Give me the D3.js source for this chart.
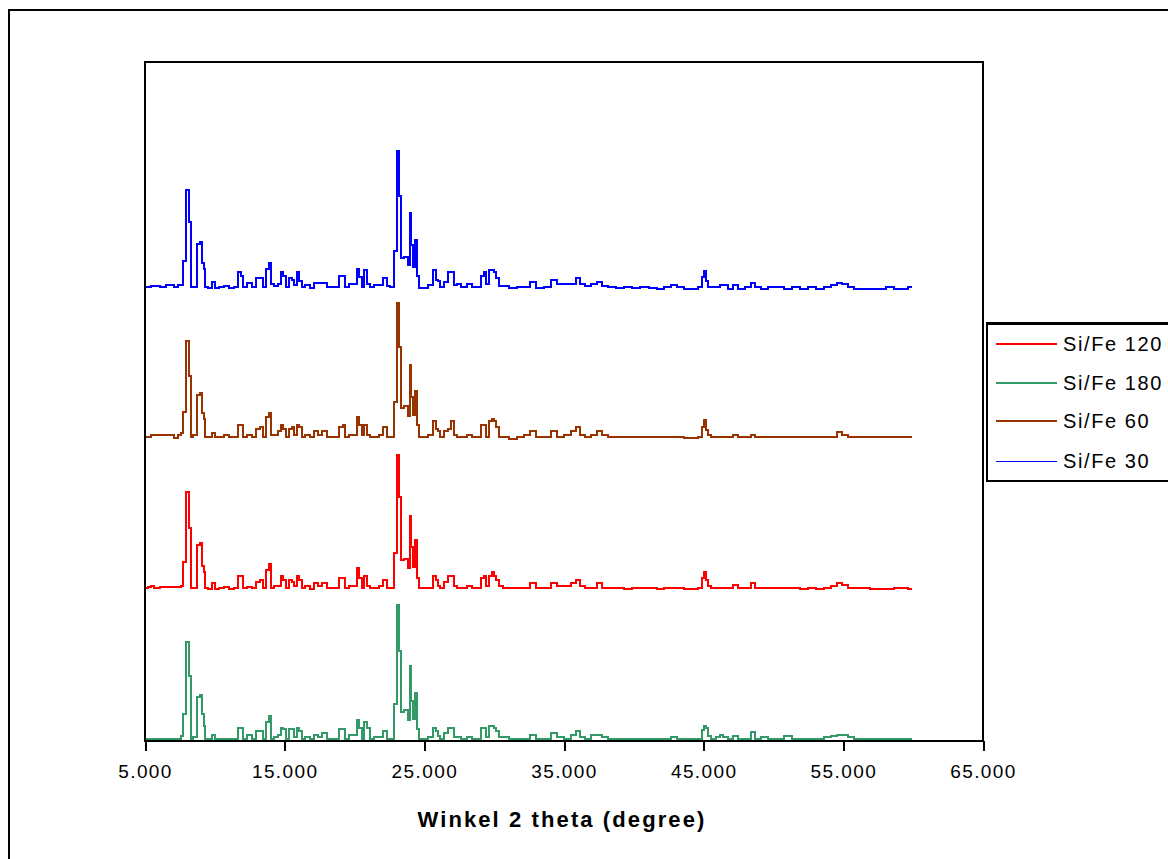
<!DOCTYPE html>
<html>
<head>
<meta charset="utf-8">
<script src="https://cdn.jsdelivr.net/npm/d3@7"></script>
<style>
body { margin: 0; background: #fff; }
text { font-family: Arial, "Liberation Sans", sans-serif; fill: #000; }
</style>
</head>
<body>
<svg id="chart" width="1168" height="859"></svg>
<script>
// 2 theta positions (degree), shared by all four patterns
var twoTheta = [5.00,5.36,5.50,5.86,6.29,6.65,6.93,7.22,7.51,7.65,
  7.79,8.04,8.19,8.33,8.58,8.87,9.01,9.12,9.26,9.40,
  9.65,9.90,10.15,10.51,10.80,11.23,11.52,11.80,11.94,12.12,
  12.52,12.80,13.16,13.31,13.52,13.81,13.95,14.09,14.38,14.67,
  14.81,14.95,15.17,15.45,15.60,15.78,15.99,16.13,16.31,16.60,
  16.96,17.24,17.53,17.82,18.25,18.68,19.10,19.25,19.46,19.82,
  20.11,20.25,20.40,20.61,20.82,21.00,21.25,21.61,21.90,22.22,
  22.40,22.68,22.97,23.15,23.29,23.44,23.58,23.72,23.87,24.01,
  24.15,24.26,24.40,24.55,24.69,25.05,25.41,25.76,25.91,26.05,
  26.26,26.55,26.77,26.98,27.20,27.48,27.84,28.27,28.56,28.91,
  29.20,29.34,29.52,29.74,29.92,30.06,30.24,30.42,30.78,31.35,
  31.92,32.35,32.71,33.28,33.85,34.28,34.71,35.29,35.72,36.00,
  36.29,36.72,37.15,37.51,37.86,38.44,39.01,39.58,40.15,40.80,
  41.37,41.94,42.45,42.87,43.30,43.88,44.38,44.74,44.95,45.10,
  45.24,45.42,45.67,46.03,46.31,46.53,46.89,47.24,47.74,48.24,
  48.53,48.89,49.32,49.89,50.46,51.04,51.61,52.18,52.76,53.33,
  53.90,54.33,54.76,55.12,55.48,56.05,56.62,57.19,57.77,58.34,
  58.91,59.41,59.92];

// intensities (a.u.)
var si30 = [10,10,15,15,10,20,20,10,20,20, 140,495,335,10,10,225,235,130,100,10,
  5,35,5,10,15,5,10,85,65,10, 30,10,55,55,10,100,130,25,15,25,
  85,65,10,55,45,20,85,40,10,20, 5,30,30,30,10,10,65,65,10,25,
  25,100,60,10,95,25,10,20,20,55, 15,10,190,690,465,155,160,160,120,380,
  220,110,245,65,5,5,20,95,45,40, 10,35,85,85,20,25,10,25,10,10,
  65,85,25,95,95,85,55,15,15,5, 10,10,35,5,10,45,25,25,25,55,
  25,15,25,35,15,10,5,10,5,10, 5,0,10,20,10,0,0,10,60,90,
  40,10,10,10,20,20,0,20,0,10, 30,10,0,10,10,0,10,0,10,0,
  10,20,30,25,10,0,0,0,0,10, 0,0,10];
var si60 = [10,10,20,20,20,20,20,5,20,30, 135,495,320,10,20,225,235,130,100,10,
  10,30,10,10,20,10,10,70,70,10, 20,10,50,60,10,110,130,20,20,40,
  70,50,10,50,60,20,70,60,10,20, 10,40,20,40,10,10,60,70,10,20,
  20,110,70,20,70,20,10,10,20,60, 10,10,185,685,465,155,165,165,115,375,
  215,120,245,70,10,10,20,90,50,40, 10,40,50,90,20,10,10,20,10,10,
  70,70,10,90,100,90,60,10,10,0, 10,20,40,10,10,40,10,20,40,60,
  20,10,20,40,20,10,10,10,10,10, 10,10,10,10,10,5,5,10,60,95,
  45,20,10,10,10,10,10,20,10,10, 20,10,10,10,10,10,10,10,10,10,
  10,10,35,20,10,10,10,10,10,10, 10,10,10];
var si120 = [10,15,20,10,15,15,15,15,15,20, 140,490,310,10,10,225,235,120,90,10,
  5,35,5,10,15,5,10,70,70,10, 15,10,40,50,10,100,130,10,20,20,
  70,50,10,50,40,20,70,50,10,20, 5,35,20,35,10,10,60,60,10,20,
  20,110,60,10,70,20,10,10,20,50, 10,10,185,675,465,150,155,155,110,370,
  215,115,250,60,10,10,10,70,50,20, 10,40,70,70,20,10,10,20,10,10,
  60,70,20,70,90,70,50,20,10,10, 10,10,35,10,10,35,20,20,35,50,
  20,10,10,35,10,10,10,5,10,10, 10,5,10,10,10,5,5,10,60,90,
  50,20,10,10,10,10,10,25,10,10, 35,10,10,10,10,10,10,5,10,5,
  10,20,35,25,10,10,10,5,5,5, 10,10,5];
var si180 = [10,10,10,10,10,10,10,10,10,25, 135,495,325,10,20,220,230,135,75,10,
  10,30,10,10,10,10,10,65,65,10, 30,10,50,50,10,95,125,10,20,30,
  65,60,10,60,60,20,65,50,10,20, 10,30,20,40,10,10,60,60,10,30,
  30,105,65,10,95,65,10,20,20,50, 10,10,185,680,450,145,155,155,105,375,
  200,110,240,60,10,10,20,65,50,25, 10,40,65,65,20,20,10,20,10,10,
  65,65,20,75,75,65,50,20,20,10, 10,10,30,10,10,40,20,10,30,50,
  20,10,30,30,20,10,10,10,10,10, 10,10,10,20,10,10,10,10,55,75,
  65,25,10,20,30,20,10,25,10,10, 45,10,20,10,10,25,10,10,10,10,
  20,25,30,30,20,10,10,10,10,10, 10,10,10];

var seriesNames = ["Si/Fe 120", "Si/Fe 180", "Si/Fe 60", "Si/Fe 30"];
var seriesValues = [si120, si180, si60, si30];
var seriesShift = [755, 0, 1510, 2265];   // vertical stacking offset (a.u.)
var seriesColors = ["#ff0000", "#339966", "#993300", "#0000ff"];
var xTicks = [5, 15, 25, 35, 45, 55, 65];
var xTitle = "Winkel 2 theta (degree)";

var svg = d3.select("#chart");
svg.append("rect").attr("width", 1168).attr("height", 859).attr("fill", "#fff");

// outer frame (cut off at right and bottom)
svg.append("rect")
  .attr("x", 9).attr("y", 10).attr("width", 1200).attr("height", 900)
  .attr("fill", "none").attr("stroke", "#000").attr("stroke-width", 2)
  .attr("shape-rendering", "crispEdges");

var plotL = 145, plotR = 983, plotT = 62, plotB = 741;

var x = d3.scaleLinear().domain([5, 65]).range([plotL, plotR]);
var y = d3.scaleLinear().domain([0, 3400]).range([plotB, plotT]);

// plot lines
var line = d3.line()
  .x(function(d) { return x(d[0]); })
  .y(function(d) { return y(d[1]); })
  .curve(d3.curveStep);

var plot = svg.append("g");
seriesValues.forEach(function(vals, i) {
  var pts = twoTheta.map(function(t, j) { return [t, vals[j] + seriesShift[i]]; });
  plot.append("path")
    .datum(pts)
    .attr("d", line)
    .attr("fill", "none")
    .attr("stroke", seriesColors[i])
    .attr("stroke-width", 2)
    .attr("shape-rendering", "crispEdges");
});

// plot border
svg.append("rect")
  .attr("x", plotL).attr("y", plotT)
  .attr("width", plotR - plotL).attr("height", plotB - plotT)
  .attr("fill", "none").attr("stroke", "#000").attr("stroke-width", 2)
  .attr("shape-rendering", "crispEdges");

// x axis
var xAxis = d3.axisBottom(x)
  .tickValues(xTicks)
  .tickSize(10)
  .tickPadding(14)
  .tickFormat(d3.format(".3f"));

var ax = svg.append("g")
  .attr("transform", "translate(0," + plotB + ")")
  .call(xAxis);
ax.select(".domain").remove();
ax.selectAll(".tick line").attr("stroke", "#000").attr("stroke-width", 2)
  .attr("shape-rendering", "crispEdges");
ax.selectAll(".tick text")
  .style("font-family", "Arial, 'Liberation Sans', sans-serif")
  .style("font-size", "19px")
  .style("letter-spacing", "1.4px")
  .attr("fill", "#000");

svg.append("text")
  .attr("x", (plotL + plotR) / 2 - 2)
  .attr("y", 827)
  .attr("text-anchor", "middle")
  .style("font-size", "22px")
  .style("font-weight", "bold")
  .style("letter-spacing", "2.1px")
  .text(xTitle);

// legend
var lg = svg.append("g");
lg.append("rect")
  .attr("x", 987).attr("y", 323).attr("width", 300).attr("height", 158)
  .attr("fill", "#fff").attr("stroke", "#000").attr("stroke-width", 2)
  .attr("shape-rendering", "crispEdges");
lg.append("line")
  .attr("x1", 986).attr("x2", 1168).attr("y1", 323.5).attr("y2", 323.5)
  .attr("stroke", "#000").attr("stroke-width", 3);

var rowY = [344, 383, 421, 461];
seriesNames.forEach(function(name, i) {
  lg.append("line")
    .attr("x1", 996).attr("x2", 1057)
    .attr("y1", rowY[i]).attr("y2", rowY[i])
    .attr("stroke", seriesColors[i])
    .attr("stroke-width", i === 3 ? 1 : 2)
    .attr("shape-rendering", "crispEdges");
  lg.append("text")
    .attr("x", 1063).attr("y", rowY[i] + 7)
    .style("font-size", "20px")
    .style("letter-spacing", "1.6px")
    .text(name);
});
</script>
</body>
</html>
